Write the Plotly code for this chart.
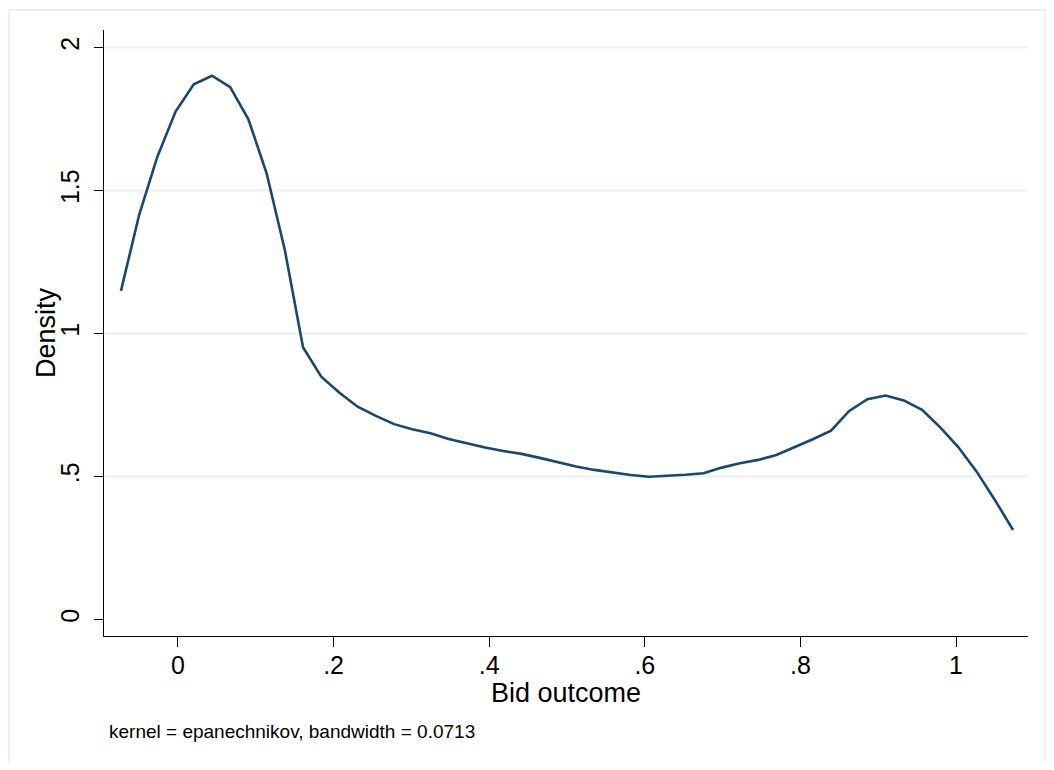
import plotly.graph_objects as go

# Kernel density evaluation points (Bid outcome) and density estimates
bid_outcome = [-0.0733, -0.0499, -0.0265, -0.0031, 0.0203, 0.0437, 0.0671, 0.0905,
               0.1139, 0.1373, 0.1607, 0.1841, 0.2075, 0.2309, 0.2543, 0.2777,
               0.3011, 0.3245, 0.3479, 0.3713, 0.3947, 0.4181, 0.4415, 0.4649,
               0.4883, 0.5117, 0.5351, 0.5585, 0.5819, 0.6053, 0.6287, 0.6521,
               0.6755, 0.6989, 0.7223, 0.7457, 0.7691, 0.7925, 0.8159, 0.8393,
               0.8627, 0.8861, 0.9095, 0.9329, 0.9563, 0.9797, 1.0031, 1.0265,
               1.0499, 1.0733]
density = [1.149, 1.415, 1.618, 1.776, 1.871, 1.901, 1.861, 1.749,
           1.560, 1.292, 0.952, 0.849, 0.793, 0.744, 0.712, 0.683,
           0.665, 0.651, 0.631, 0.616, 0.601, 0.589, 0.579, 0.565,
           0.550, 0.535, 0.523, 0.513, 0.505, 0.499, 0.502, 0.506,
           0.511, 0.531, 0.546, 0.558, 0.575, 0.602, 0.630, 0.660,
           0.729, 0.770, 0.783, 0.766, 0.733, 0.672, 0.602, 0.517,
           0.418, 0.313]

x_tickvals = [0, 0.2, 0.4, 0.6, 0.8, 1]
x_ticktext = ["0", ".2", ".4", ".6", ".8", "1"]
y_tickvals = [0, 0.5, 1, 1.5, 2]
y_ticktext = ["0", ".5", "1", "1.5", "2"]
grid_vals = [0.5, 1, 1.5, 2]

x_title = "Bid outcome"
y_title = "Density"
note_text = "kernel = epanechnikov, bandwidth = 0.0713"

# page body has an 8px margin; figure coords = screen coords - 8
OFF = 8
W, H = 1038, 754
L, R, T, B = 104 - OFF, W - (1028 - OFF), 30 - OFF, H - (636 - OFF)
pw, ph = W - L - R, H - T - B

def px_x(p):
    return (p - OFF - L) / pw

def px_y(p):
    return (H - B - (p - OFF)) / ph

FONT = "Liberation Sans, Arial, sans-serif"
GRID = "#EAF2F3"

fig = go.Figure()
fig.add_trace(go.Scatter(x=bid_outcome, y=density, mode="lines",
                         line=dict(color="#1A476F", width=2.6),
                         showlegend=False, hoverinfo="x+y"))

shapes = []
for gv in grid_vals:
    shapes.append(dict(type="line", xref="paper", yref="y", x0=0, x1=1,
                       y0=gv, y1=gv, line=dict(color=GRID, width=2), layer="below"))
# outer graph-region frame
shapes.append(dict(type="rect", xref="paper", yref="paper",
                   x0=px_x(9), x1=px_x(1045), y0=px_y(10), y1=px_y(800),
                   line=dict(color=GRID, width=2), fillcolor="rgba(0,0,0,0)", layer="below"))

fig.update_layout(
    width=W, height=H,
    margin=dict(l=L, r=R, t=T, b=B, pad=0),
    paper_bgcolor="white", plot_bgcolor="white",
    font=dict(family=FONT, color="black"),
    shapes=shapes,
    xaxis=dict(range=[-0.0951, 1.0925], tickvals=x_tickvals, ticktext=x_ticktext,
               showgrid=False, zeroline=False, showline=True, linecolor="black",
               linewidth=1, ticks="outside", ticklen=10, tickcolor="black",
               tickfont=dict(size=25, family=FONT), ticklabelstandoff=-3),
    yaxis=dict(range=[-0.0577, 2.061], tickvals=y_tickvals, ticktext=y_ticktext,
               showgrid=False, zeroline=False, showline=True, linecolor="black",
               linewidth=1, ticks="outside", ticklen=9, tickcolor="black",
               tickangle=-90, tickfont=dict(size=25, family=FONT), ticklabelstandoff=5),
    annotations=[
        dict(text=note_text, xref="paper", yref="paper",
             x=px_x(107), y=px_y(744), xanchor="left", yanchor="bottom",
             showarrow=False, font=dict(size=19, family=FONT)),
        dict(text=x_title, xref="paper", yref="paper",
             x=0.5, y=px_y(693), xanchor="center", yanchor="middle",
             showarrow=False, font=dict(size=27, family=FONT)),
        dict(text=y_title, xref="paper", yref="paper", textangle=-90,
             x=px_x(46), y=0.5, xanchor="center", yanchor="middle",
             showarrow=False, font=dict(size=27, family=FONT)),
    ],
)

fig.write_html("out.html")
